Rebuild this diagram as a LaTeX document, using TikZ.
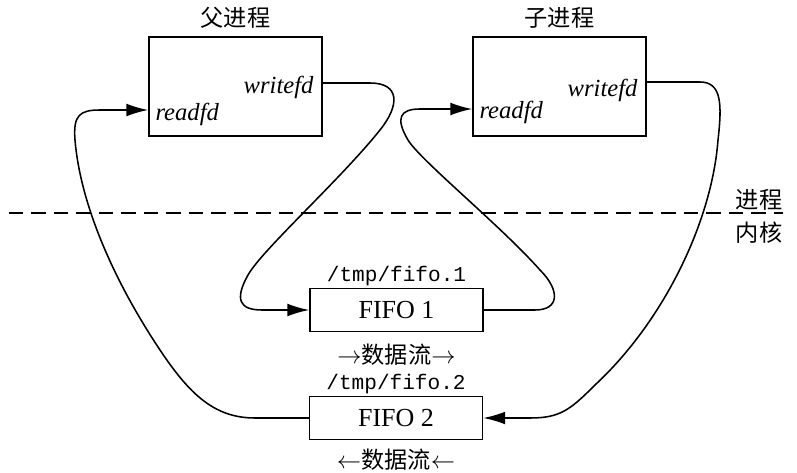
\documentclass[tikz,border=0pt]{standalone}
\usepackage{fontspec}
\setmainfont{Liberation Serif}
\setmonofont{Liberation Mono}
\newfontfamily\cjk{Noto Sans CJK SC}
\usepackage{tikz}
\usetikzlibrary{calc, positioning, arrows.meta}

\begin{document}
\begin{tikzpicture}[x=0.025cm, y=-0.025cm,
    proc/.style={draw, line width=1pt, minimum width=4.325cm, minimum height=2.475cm},
    fifo/.style={draw, line width=1pt, minimum width=4.325cm, minimum height=1.075cm, font=\fontsize{18.5}{20}\selectfont},
    fd/.style={font=\fontsize{17.5}{20}\selectfont\itshape, inner sep=0pt},
    title/.style={font=\fontsize{16.5}{19}\cjk, inner sep=1pt},
    fname/.style={font=\fontsize{15}{17}\ttfamily, inner sep=1pt},
    flow/.style={line width=1.1pt, -{Latex[length=5.5mm, width=3.2mm]}}]
    \useasboundingbox (0,0) rectangle (797,473);

    \node[proc] (parent) at (235.5,86.5) {};
    \node[proc] (child) at (559.5,86.5) {};
    \node[fifo] (fifo1) at (396.5,310) {FIFO 1};
    \node[fifo] (fifo2) at (396,418) {FIFO 2};

    \node[title, above=0.15cm of parent] (ptitle) {父进程};
    \node[title, above=0.15cm of child] (ctitle) {子进程};
    \node[fd, anchor=east] (pw) at ($(parent.east)+(-9,1)$) {writefd};
    \node[fd, anchor=west] (pr) at ($(parent.west)+(7,28)$) {readfd};
    \node[fd, anchor=east] (cw) at ($(child.east)+(-9,4)$) {writefd};
    \node[fd, anchor=west] (cr) at ($(child.west)+(7,26)$) {readfd};

    \node[fname, above=0pt of fifo1] (f1name) {/tmp/fifo.1};
    \node[title, below=0.25cm of fifo1] (f1dir) {$\rightarrow$数据流$\rightarrow$};
    \node[fname, above=0pt of fifo2] (f2name) {/tmp/fifo.2};
    \node[title, below=0.17cm of fifo2] (f2dir) {$\leftarrow$数据流$\leftarrow$};

    \node[title] (user) at (759,200) {进程};
    \node[title] (kern) at (759,233) {内核};
    \draw[line width=0.8pt, dash pattern=on 10pt off 6pt] (9,213) -- (783,213);

    \draw[flow] ($(parent.east)+(0,-3.5)$) -- (370,83) .. controls (400,83) and (400,105) .. (380,130)
        .. controls (340,180) and (262,250) .. (248,275) .. controls (234,300) and (240,310) .. (262,310) -- (fifo1.west);
    \draw[flow] (fifo1.east) -- (535,310) .. controls (560,310) and (560,290) .. (540,270)
        .. controls (500,225) and (420,160) .. (408,140) .. controls (395,118) and (400,109) .. (420,109) -- ($(child.west)+(0,22.5)$);
    \draw[flow] ($(child.east)+(0,-4.5)$) -- (700,82) .. controls (722,82) and (722,105) .. (718,140)
        .. controls (712,220) and (665,320) .. (595,385) .. controls (570,410) and (560,418) .. (530,418) -- (fifo2.east);
    \draw[flow] (fifo2.west) -- (255,418) .. controls (215,418) and (190,395) .. (160,350)
        .. controls (110,275) and (80,200) .. (75,140) .. controls (73,115) and (80,110) .. (100,110) -- ($(parent.west)+(0,23.5)$);
\end{tikzpicture}
\end{document}
